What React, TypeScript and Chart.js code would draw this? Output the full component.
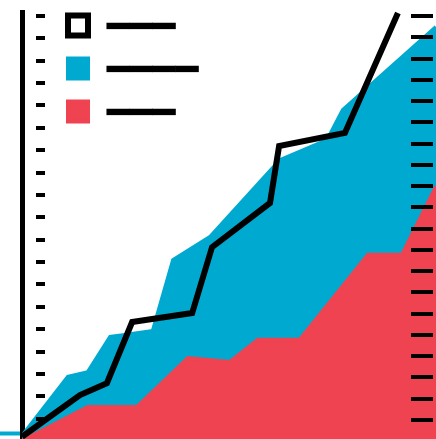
import React, { useEffect, useRef } from "react";
import { Chart, registerables } from "chart.js";

Chart.register(...registerables);

// Legend labels (rendered as heavy rules); the leading empty line nudges the rule down
const SERIES_LABELS = [["", "━━━"], ["", "━━━━"], ["", "━━━"]];

// Black line series
const LINE_X = [0, 14.0, 20.5, 26.6, 41.1, 45.9, 59.9, 62.1, 78.0, 90.8];
const LINE_Y = [1, 10.8, 13.6, 28.0, 30.1, 45.6, 56.0, 69.4, 72.5, 100.7];

// Blue area series
const BLUE_X = [0, 11.1, 15.9, 21.3, 24.4, 31.6, 36.5, 45.4, 62.3, 73.7, 77.5, 100];
const BLUE_Y = [1.2, 15.1, 16.2, 24.5, 24.9, 25.9, 42.6, 48.0, 66.1, 70.8, 77.9, 97.4];

// Red area series
const RED_X = [0, 15.9, 27.8, 40.1, 50.2, 57.0, 67.1, 83.6, 91.8, 100];
const RED_Y = [0, 8.0, 8.0, 19.5, 18.6, 23.8, 23.8, 43.8, 43.8, 59.8];

const BLUE = "#00A9CF";
const RED = "#EF4351";
const BLACK = "#000000";

const toPoints = (xs: number[], ys: number[]) => xs.map((x, i) => ({ x, y: ys[i] }));

const LEGEND_PADDING = 35;
const LEGEND_LEFT = 68 - LEGEND_PADDING;
const LEGEND_TOP = 6.5 - LEGEND_PADDING;

const legendPlacement = {
  id: "legendPlacement",
  afterLayout(chart: any) {
    const lg = chart.legend;
    if (!lg) return;
    lg.left = LEGEND_LEFT;
    lg.top = LEGEND_TOP;
    lg.right = chart.width;
    lg.bottom = chart.height;
    lg.width = lg.right - lg.left;
    lg.height = lg.bottom - lg.top;
  },
};

export default function App() {
  const ref = useRef<HTMLCanvasElement | null>(null);

  useEffect(() => {
    if (!ref.current) return;
    const chart = new Chart(ref.current, {
      type: "line",
      data: {
        datasets: [
          {
            label: SERIES_LABELS[0] as any,
            data: toPoints(LINE_X, LINE_Y),
            borderColor: BLACK,
            backgroundColor: "#ffffff",
            borderWidth: 6,
            fill: false,
            pointRadius: 0,
            tension: 0,
            order: 0,
            clip: false as any,
          },
          {
            label: SERIES_LABELS[1] as any,
            data: toPoints(BLUE_X, BLUE_Y),
            borderColor: BLUE,
            backgroundColor: BLUE,
            borderWidth: 4,
            fill: "origin",
            pointRadius: 0,
            tension: 0,
            order: 2,
          },
          {
            label: SERIES_LABELS[2] as any,
            data: toPoints(RED_X, RED_Y),
            borderColor: RED,
            backgroundColor: RED,
            borderWidth: 4,
            fill: "origin",
            pointRadius: 0,
            tension: 0,
            order: 1,
          },
        ],
      },
      options: {
        animation: false,
        responsive: true,
        maintainAspectRatio: false,
        events: [],
        layout: { padding: { top: 12, left: 0, right: 0, bottom: 0 } },
        plugins: {
          tooltip: { enabled: false },
          legend: {
            position: "chartArea",
            align: "start",
            labels: {
              boxWidth: 20,
              boxHeight: 20,
              padding: LEGEND_PADDING,
              color: BLACK,
              font: { family: "DejaVu Sans Mono", size: 38, lineHeight: "4px" },
              sort: (a: any, b: any) => a.datasetIndex - b.datasetIndex,
            },
          },
        },
        scales: {
          x: { type: "linear", min: 0, max: 100, display: false },
          y: {
            type: "linear",
            position: "left",
            min: 0,
            max: 100.94,
            weight: 0,
            ticks: { display: false },
            grid: { display: false, drawTicks: false },
            border: { display: true, color: BLACK, width: 5 },
          },
          yDots: {
            type: "linear",
            position: "left",
            min: 0,
            max: 19.18,
            weight: 1,
            ticks: { display: false, stepSize: 1, includeBounds: false },
            grid: { display: true, drawTicks: false, color: BLACK, lineWidth: 4, z: 1 },
            border: { display: false, dash: [0, 14, 9, 3000] },
          },
          yR: {
            type: "linear",
            position: "right",
            min: 0,
            max: 20.19,
            ticks: { display: false, stepSize: 1, includeBounds: false },
            grid: { display: true, drawTicks: false, color: BLACK, lineWidth: 4, z: 1 },
            border: { display: false, dash: [0, 389, 22, 3000] },
          },
          yTick: {
            type: "linear",
            position: "left",
            min: -1,
            max: 60,
            weight: 5,
            ticks: { display: false, stepSize: 100, includeBounds: false },
            grid: {
              display: true,
              drawOnChartArea: false,
              drawTicks: true,
              tickLength: 22,
              tickWidth: 4,
              tickColor: BLUE,
            },
            border: { display: false },
          },
        },
      } as any,
      plugins: [legendPlacement],
    });
    return () => chart.destroy();
  }, []);

  return (
    <div
      style={{
        position: "fixed",
        left: 0,
        top: 0,
        width: 436,
        height: 439,
        overflow: "hidden",
        background: "#ffffff",
      }}
    >
      <div style={{ position: "relative", width: 436, height: 441 }}>
        <canvas ref={ref} />
      </div>
    </div>
  );
}
